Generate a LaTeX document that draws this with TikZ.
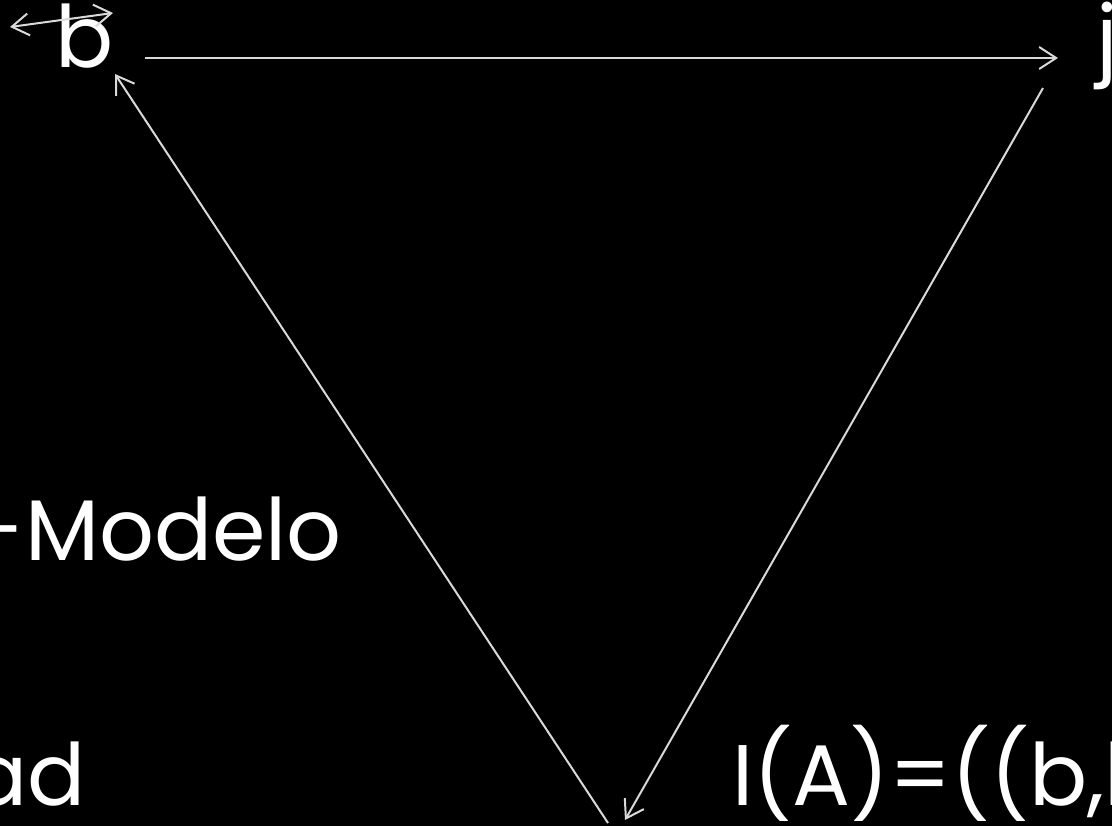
\documentclass[tikz,border=0pt]{standalone}
\usepackage{fontspec}
\setmainfont{Poppins}
\usetikzlibrary{arrows.meta}
\definecolor{edgegray}{HTML}{D9D9D9}
\tikzset{
  lbl/.style={text=white, inner sep=0pt, font=\fontsize{86}{90}\selectfont},
  barb/.style={Straight Barb[length=17pt,width=22pt,line width=2pt]},
  edge/.style={draw=edgegray, line width=2pt, -{Straight Barb[length=17pt,width=22pt,line width=2pt]}},
  dedge/.style={draw=edgegray, line width=2pt, {Straight Barb[length=17pt,width=22pt,line width=2pt]}-{Straight Barb[length=17pt,width=22pt,line width=2pt]}}
}
\begin{document}
\begin{tikzpicture}[x=1pt,y=-1pt]
\fill[black] (0,0) rectangle (1112,826);
\useasboundingbox (0,0) rectangle (1112,826);
% nodes
\node[lbl, anchor=base west] (b) at (55,68) {b};
\node[lbl, anchor=base west] (j) at (1096,68) {j};
\coordinate (bot) at (616,880);
% connector end points
\coordinate (bjs) at (145,58);
\coordinate (bje) at (1058,58);
\coordinate (jbs) at (1043,88);
\coordinate (jbe) at (625,820);
\coordinate (bbs) at (608,823);
\coordinate (bbe) at (115,74);
\coordinate (ls) at (10,27);
\coordinate (le) at (113,13);
\draw[edge] (bjs) -- (bje);
\draw[edge] (jbs) -- (jbe);
\draw[edge] (bbs) -- (bbe);
\draw[dedge] (ls) -- (le);
% labels
\node[lbl, anchor=base east] (modelo) at (342,560) {-Modelo};
\node[lbl, anchor=base east] (ad) at (86,805) {ad};
\node[lbl, anchor=base west] (ia) at (732,805) {I(A)=((b,b};
\end{tikzpicture}
\end{document}
